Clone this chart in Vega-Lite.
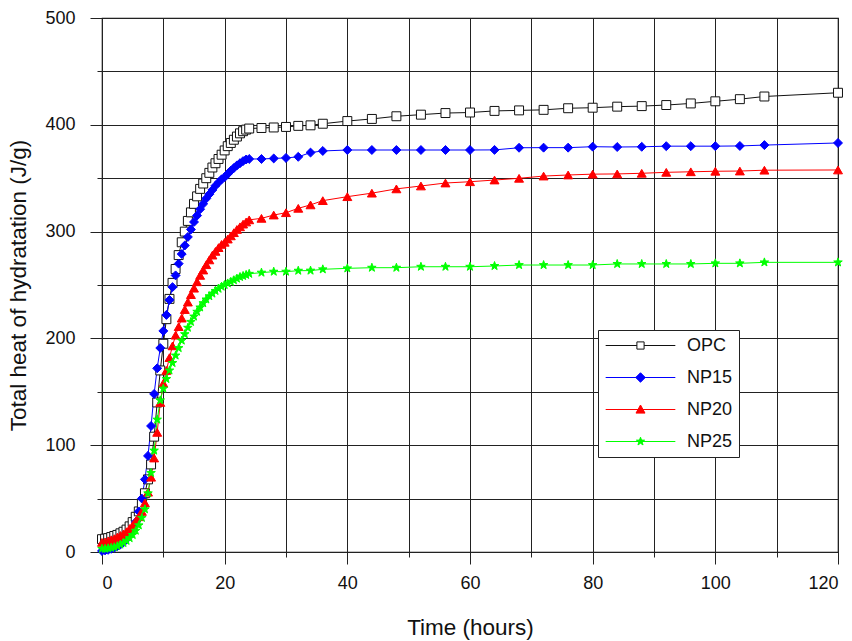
{
  "$schema": "https://vega.github.io/schema/vega-lite/v6.json",
  "width": 736,
  "height": 534,
  "autosize": {"type": "none"},
  "padding": {"left": 102, "top": 18, "right": 14, "bottom": 89},
  "background": "white",
  "config": {
    "font": "Liberation Sans",
    "view": {"stroke": "#111", "strokeWidth": 1.2},
    "axis": {
      "domain": false,
      "grid": true,
      "gridColor": "#222",
      "gridWidth": 1,
      "gridOpacity": 1,
      "tickColor": "#222",
      "tickWidth": 1,
      "labelFont": "Liberation Sans",
      "labelFontSize": 18,
      "labelColor": "#111",
      "titleFont": "Liberation Sans",
      "titleFontSize": 22.5,
      "titleFontWeight": "normal",
      "titleColor": "#111"
    },
    "legend": {"labelFont": "Liberation Sans"}
  },
  "data": {
    "values": [
      {"s":"OPC","t":0,"v":12},{"s":"OPC","t":0.5,"v":12.5},{"s":"OPC","t":1,"v":13},{"s":"OPC","t":1.5,"v":14},{"s":"OPC","t":2,"v":15},{"s":"OPC","t":2.5,"v":16},{"s":"OPC","t":3,"v":17.5},{"s":"OPC","t":3.5,"v":19},{"s":"OPC","t":4,"v":21},{"s":"OPC","t":4.5,"v":24},
      {"s":"OPC","t":5,"v":28},{"s":"OPC","t":5.5,"v":33},{"s":"OPC","t":6,"v":38},{"s":"OPC","t":6.5,"v":45},{"s":"OPC","t":7,"v":55},{"s":"OPC","t":7.5,"v":68},{"s":"OPC","t":8,"v":82},{"s":"OPC","t":8.5,"v":108},{"s":"OPC","t":9,"v":140},{"s":"OPC","t":9.5,"v":170},
      {"s":"OPC","t":10,"v":195},{"s":"OPC","t":10.5,"v":218},{"s":"OPC","t":11,"v":237},{"s":"OPC","t":11.5,"v":252},{"s":"OPC","t":12,"v":265},{"s":"OPC","t":12.5,"v":278},{"s":"OPC","t":13,"v":290},{"s":"OPC","t":13.5,"v":300},{"s":"OPC","t":14,"v":310},{"s":"OPC","t":14.5,"v":318},
      {"s":"OPC","t":15,"v":326},{"s":"OPC","t":15.5,"v":333},{"s":"OPC","t":16,"v":340},{"s":"OPC","t":16.5,"v":345},{"s":"OPC","t":17,"v":350},{"s":"OPC","t":17.5,"v":355},{"s":"OPC","t":18,"v":360},{"s":"OPC","t":18.5,"v":364},{"s":"OPC","t":19,"v":368},{"s":"OPC","t":19.5,"v":372},
      {"s":"OPC","t":20,"v":376},{"s":"OPC","t":20.5,"v":380},{"s":"OPC","t":21,"v":383},{"s":"OPC","t":21.5,"v":386},{"s":"OPC","t":22,"v":389},{"s":"OPC","t":22.5,"v":392},{"s":"OPC","t":23,"v":394},{"s":"OPC","t":23.5,"v":395.5},{"s":"OPC","t":24,"v":396.5},
      {"s":"OPC","t":26,"v":397},{"s":"OPC","t":28,"v":397.5},{"s":"OPC","t":30,"v":398},{"s":"OPC","t":32,"v":399},{"s":"OPC","t":34,"v":399.5},{"s":"OPC","t":36,"v":401},{"s":"OPC","t":40,"v":403.5},{"s":"OPC","t":44,"v":405.5},{"s":"OPC","t":48,"v":408},{"s":"OPC","t":52,"v":409.5},
      {"s":"OPC","t":56,"v":411},{"s":"OPC","t":60,"v":411.5},{"s":"OPC","t":64,"v":413},{"s":"OPC","t":68,"v":413.5},{"s":"OPC","t":72,"v":414},{"s":"OPC","t":76,"v":415.5},{"s":"OPC","t":80,"v":416},{"s":"OPC","t":84,"v":417},{"s":"OPC","t":88,"v":417.5},{"s":"OPC","t":92,"v":418.5},
      {"s":"OPC","t":96,"v":420},{"s":"OPC","t":100,"v":422},{"s":"OPC","t":104,"v":424},{"s":"OPC","t":108,"v":426.5},{"s":"OPC","t":120,"v":430},

      {"s":"NP15","t":0,"v":1},{"s":"NP15","t":0.5,"v":1.5},{"s":"NP15","t":1,"v":2},{"s":"NP15","t":1.5,"v":3},{"s":"NP15","t":2,"v":4},{"s":"NP15","t":2.5,"v":5.5},{"s":"NP15","t":3,"v":7},{"s":"NP15","t":3.5,"v":9},{"s":"NP15","t":4,"v":12},{"s":"NP15","t":4.5,"v":16},
      {"s":"NP15","t":5,"v":21},{"s":"NP15","t":5.5,"v":28},{"s":"NP15","t":6,"v":38},{"s":"NP15","t":6.5,"v":50},{"s":"NP15","t":7,"v":68},{"s":"NP15","t":7.5,"v":90},{"s":"NP15","t":8,"v":118},{"s":"NP15","t":8.5,"v":148},{"s":"NP15","t":9,"v":172},{"s":"NP15","t":9.5,"v":191},
      {"s":"NP15","t":10,"v":207},{"s":"NP15","t":10.5,"v":222},{"s":"NP15","t":11,"v":236},{"s":"NP15","t":11.5,"v":248},{"s":"NP15","t":12,"v":259},{"s":"NP15","t":12.5,"v":270},{"s":"NP15","t":13,"v":279},{"s":"NP15","t":13.5,"v":287},{"s":"NP15","t":14,"v":295},{"s":"NP15","t":14.5,"v":302},
      {"s":"NP15","t":15,"v":309},{"s":"NP15","t":15.5,"v":315},{"s":"NP15","t":16,"v":321},{"s":"NP15","t":16.5,"v":326},{"s":"NP15","t":17,"v":331},{"s":"NP15","t":17.5,"v":335},{"s":"NP15","t":18,"v":339},{"s":"NP15","t":18.5,"v":343},{"s":"NP15","t":19,"v":346},{"s":"NP15","t":19.5,"v":349},
      {"s":"NP15","t":20,"v":351},{"s":"NP15","t":20.5,"v":354},{"s":"NP15","t":21,"v":357},{"s":"NP15","t":21.5,"v":359.5},{"s":"NP15","t":22,"v":362},{"s":"NP15","t":22.5,"v":364},{"s":"NP15","t":23,"v":366},{"s":"NP15","t":23.5,"v":367.5},{"s":"NP15","t":24,"v":368},
      {"s":"NP15","t":26,"v":368},{"s":"NP15","t":28,"v":368.5},{"s":"NP15","t":30,"v":369},{"s":"NP15","t":32,"v":370},{"s":"NP15","t":34,"v":374},{"s":"NP15","t":36,"v":375.5},{"s":"NP15","t":40,"v":376.4},{"s":"NP15","t":44,"v":376.4},{"s":"NP15","t":48,"v":376.4},{"s":"NP15","t":52,"v":376.4},
      {"s":"NP15","t":56,"v":376.4},{"s":"NP15","t":60,"v":376.4},{"s":"NP15","t":64,"v":376.5},{"s":"NP15","t":68,"v":378.5},{"s":"NP15","t":72,"v":378.6},{"s":"NP15","t":76,"v":378.6},{"s":"NP15","t":80,"v":379.5},{"s":"NP15","t":84,"v":379.2},{"s":"NP15","t":88,"v":379.4},{"s":"NP15","t":92,"v":380},
      {"s":"NP15","t":96,"v":380},{"s":"NP15","t":100,"v":380},{"s":"NP15","t":104,"v":380.2},{"s":"NP15","t":108,"v":381},{"s":"NP15","t":120,"v":383},

      {"s":"NP20","t":0,"v":9},{"s":"NP20","t":0.5,"v":9.5},{"s":"NP20","t":1,"v":10.5},{"s":"NP20","t":1.5,"v":11.5},{"s":"NP20","t":2,"v":12.5},{"s":"NP20","t":2.5,"v":14},{"s":"NP20","t":3,"v":15.5},{"s":"NP20","t":3.5,"v":17},{"s":"NP20","t":4,"v":19},{"s":"NP20","t":4.5,"v":22},
      {"s":"NP20","t":5,"v":25},{"s":"NP20","t":5.5,"v":29},{"s":"NP20","t":6,"v":33},{"s":"NP20","t":6.5,"v":38},{"s":"NP20","t":7,"v":46},{"s":"NP20","t":7.5,"v":56},{"s":"NP20","t":8,"v":70},{"s":"NP20","t":8.5,"v":88},{"s":"NP20","t":9,"v":112},{"s":"NP20","t":9.5,"v":140},
      {"s":"NP20","t":10,"v":158},{"s":"NP20","t":10.5,"v":170},{"s":"NP20","t":11,"v":182},{"s":"NP20","t":11.5,"v":193},{"s":"NP20","t":12,"v":203},{"s":"NP20","t":12.5,"v":211},{"s":"NP20","t":13,"v":219},{"s":"NP20","t":13.5,"v":227},{"s":"NP20","t":14,"v":234},{"s":"NP20","t":14.5,"v":241},
      {"s":"NP20","t":15,"v":247},{"s":"NP20","t":15.5,"v":253},{"s":"NP20","t":16,"v":259},{"s":"NP20","t":16.5,"v":264},{"s":"NP20","t":17,"v":269},{"s":"NP20","t":17.5,"v":273.5},{"s":"NP20","t":18,"v":278},{"s":"NP20","t":18.5,"v":281.5},{"s":"NP20","t":19,"v":285},{"s":"NP20","t":19.5,"v":288},
      {"s":"NP20","t":20,"v":290},{"s":"NP20","t":20.5,"v":293},{"s":"NP20","t":21,"v":296},{"s":"NP20","t":21.5,"v":299},{"s":"NP20","t":22,"v":302},{"s":"NP20","t":22.5,"v":304.5},{"s":"NP20","t":23,"v":307},{"s":"NP20","t":23.5,"v":309},{"s":"NP20","t":24,"v":311},
      {"s":"NP20","t":26,"v":312.4},{"s":"NP20","t":28,"v":315.5},{"s":"NP20","t":30,"v":317.7},{"s":"NP20","t":32,"v":321.8},{"s":"NP20","t":34,"v":325},{"s":"NP20","t":36,"v":329},{"s":"NP20","t":40,"v":332.7},{"s":"NP20","t":44,"v":336},{"s":"NP20","t":48,"v":340},{"s":"NP20","t":52,"v":342.7},
      {"s":"NP20","t":56,"v":345.5},{"s":"NP20","t":60,"v":346.7},{"s":"NP20","t":64,"v":348.3},{"s":"NP20","t":68,"v":349.9},{"s":"NP20","t":72,"v":352},{"s":"NP20","t":76,"v":353},{"s":"NP20","t":80,"v":353.8},{"s":"NP20","t":84,"v":354},{"s":"NP20","t":88,"v":354.6},{"s":"NP20","t":92,"v":355.5},
      {"s":"NP20","t":96,"v":356},{"s":"NP20","t":100,"v":356.5},{"s":"NP20","t":104,"v":356.7},{"s":"NP20","t":108,"v":357.5},{"s":"NP20","t":120,"v":357.7},

      {"s":"NP25","t":0,"v":3},{"s":"NP25","t":0.5,"v":3},{"s":"NP25","t":1,"v":3.5},{"s":"NP25","t":1.5,"v":4},{"s":"NP25","t":2,"v":4.5},{"s":"NP25","t":2.5,"v":5.5},{"s":"NP25","t":3,"v":7},{"s":"NP25","t":3.5,"v":8.5},{"s":"NP25","t":4,"v":10.5},{"s":"NP25","t":4.5,"v":13},
      {"s":"NP25","t":5,"v":16},{"s":"NP25","t":5.5,"v":20},{"s":"NP25","t":6,"v":25},{"s":"NP25","t":6.5,"v":32},{"s":"NP25","t":7,"v":40},{"s":"NP25","t":7.5,"v":55},{"s":"NP25","t":8,"v":74},{"s":"NP25","t":8.5,"v":95},{"s":"NP25","t":9,"v":124},{"s":"NP25","t":9.5,"v":142},
      {"s":"NP25","t":10,"v":153},{"s":"NP25","t":10.5,"v":162},{"s":"NP25","t":11,"v":170},{"s":"NP25","t":11.5,"v":177},{"s":"NP25","t":12,"v":184},{"s":"NP25","t":12.5,"v":191},{"s":"NP25","t":13,"v":198},{"s":"NP25","t":13.5,"v":204},{"s":"NP25","t":14,"v":210},{"s":"NP25","t":14.5,"v":215.5},
      {"s":"NP25","t":15,"v":220.5},{"s":"NP25","t":15.5,"v":225},{"s":"NP25","t":16,"v":229},{"s":"NP25","t":16.5,"v":233},{"s":"NP25","t":17,"v":236.5},{"s":"NP25","t":17.5,"v":239.5},{"s":"NP25","t":18,"v":242},{"s":"NP25","t":18.5,"v":244.5},{"s":"NP25","t":19,"v":246.5},{"s":"NP25","t":19.5,"v":248.5},
      {"s":"NP25","t":20,"v":250},{"s":"NP25","t":20.5,"v":251.5},{"s":"NP25","t":21,"v":253},{"s":"NP25","t":21.5,"v":254.5},{"s":"NP25","t":22,"v":256},{"s":"NP25","t":22.5,"v":257.5},{"s":"NP25","t":23,"v":258.5},{"s":"NP25","t":23.5,"v":259.5},{"s":"NP25","t":24,"v":260.5},
      {"s":"NP25","t":26,"v":261.6},{"s":"NP25","t":28,"v":262.5},{"s":"NP25","t":30,"v":262.5},{"s":"NP25","t":32,"v":263.4},{"s":"NP25","t":34,"v":263.5},{"s":"NP25","t":36,"v":264.7},{"s":"NP25","t":40,"v":265.6},{"s":"NP25","t":44,"v":266.2},{"s":"NP25","t":48,"v":266.2},{"s":"NP25","t":52,"v":267.1},
      {"s":"NP25","t":56,"v":267.1},{"s":"NP25","t":60,"v":267.1},{"s":"NP25","t":64,"v":267.8},{"s":"NP25","t":68,"v":268.7},{"s":"NP25","t":72,"v":268.7},{"s":"NP25","t":76,"v":268.7},{"s":"NP25","t":80,"v":268.7},{"s":"NP25","t":84,"v":269.7},{"s":"NP25","t":88,"v":269.7},{"s":"NP25","t":92,"v":269.7},
      {"s":"NP25","t":96,"v":269.7},{"s":"NP25","t":100,"v":270.3},{"s":"NP25","t":104,"v":270.3},{"s":"NP25","t":108,"v":271.2},{"s":"NP25","t":120,"v":271.2}
    ]
  },
  "encoding": {
    "x": {
      "field": "t",
      "type": "quantitative",
      "scale": {"domain": [0, 120], "nice": false, "zero": false},
      "axis": {
        "title": "Time (hours)",
        "values": [0, 10, 20, 30, 40, 50, 60, 70, 80, 90, 100, 110, 120],
        "labelExpr": "datum.value % 20 === 0 ? datum.label : ''",
        "tickSize": {"condition": {"test": "datum.value % 20 === 0", "value": 12}, "value": 5},
        "labelPadding": 10,
        "titlePadding": 24
      }
    },
    "y": {
      "field": "v",
      "type": "quantitative",
      "scale": {"domain": [0, 500], "nice": false},
      "axis": {
        "title": "Total heat of hydratation (J/g)",
        "values": [0, 50, 100, 150, 200, 250, 300, 350, 400, 450, 500],
        "labelExpr": "datum.value % 100 === 0 ? datum.label : ''",
        "tickSize": {"condition": {"test": "datum.value % 100 === 0", "value": 12}, "value": 5},
        "labelPadding": 15,
        "titlePadding": 14
      }
    }
  },
  "layer": [
    {
      "mark": {"type": "line", "strokeWidth": 1},
      "encoding": {
        "color": {
          "field": "s",
          "type": "nominal",
          "scale": {"domain": ["OPC", "NP15", "NP20", "NP25"], "range": ["#111111", "#0000ff", "#ff0000", "#00ff00"]},
          "legend": {
            "title": null,
            "orient": "none",
            "legendX": 496,
            "legendY": 312,
            "strokeColor": "#222",
            "fillColor": "white",
            "padding": 6,
            "symbolSize": 324,
            "symbolStrokeWidth": 1,
            "symbolOffset": 27,
            "labelOffset": 37,
            "labelFontSize": 18,
            "labelColor": "#111",
            "rowPadding": 13,
            "encode": {
              "symbols": {
                "update": {
                  "shape": {"signal": "datum.value === 'OPC' ? 'M-3.87,0H-0.4M0.4,0H3.87M-0.4,-0.4H0.4V0.4H-0.4Z' : datum.value === 'NP15' ? 'M-3.87,0H3.87M0,-0.53L0.53,0L0,0.53L-0.53,0Z' : datum.value === 'NP20' ? 'M-3.87,0H3.87M0,-0.5L0.5,0.4L-0.5,0.4Z' : 'M-3.87,0H3.87M0,-0.48L0.113,-0.156L0.456,-0.148L0.183,0.06L0.283,0.388L0,0.192L-0.283,0.388L-0.183,0.06L-0.456,-0.148L-0.113,-0.156Z'"},
                  "fill": {"signal": "datum.value === 'OPC' ? 'white' : datum.value === 'NP15' ? '#0000ff' : datum.value === 'NP20' ? '#ff0000' : '#00ff00'"},
                  "stroke": {"signal": "datum.value === 'OPC' ? '#111111' : datum.value === 'NP15' ? '#0000ff' : datum.value === 'NP20' ? '#ff0000' : '#00ff00'"},
                  "opacity": {"value": 1},
                  "strokeWidth": {"value": 1}
                }
              }
            }
          }
        }
      }
    },
    {
      "mark": {"type": "point", "filled": true, "opacity": 1, "strokeWidth": 1},
      "encoding": {
        "shape": {
          "field": "s",
          "type": "nominal",
          "scale": {"domain": ["NP25", "NP20", "NP15", "OPC"], "range": ["M0,-1L0.235,-0.324L0.951,-0.309L0.38,0.124L0.588,0.809L0,0.4L-0.588,0.809L-0.38,0.124L-0.951,-0.309L-0.235,-0.324Z", "triangle-up", "diamond", "square"]},
          "legend": null
        },
        "fill": {
          "field": "s",
          "type": "nominal",
          "scale": {"domain": ["NP25", "NP20", "NP15", "OPC"], "range": ["#00ff00", "#ff0000", "#0000ff", "white"]},
          "legend": null
        },
        "stroke": {
          "field": "s",
          "type": "nominal",
          "scale": {"domain": ["NP25", "NP20", "NP15", "OPC"], "range": ["#00ff00", "#ff0000", "#0000ff", "#111111"]},
          "legend": null
        },
        "size": {
          "field": "s",
          "type": "nominal",
          "scale": {"domain": ["NP25", "NP20", "NP15", "OPC"], "range": [80, 80, 90, 49]},
          "legend": null
        }
      }
    }
  ]
}
